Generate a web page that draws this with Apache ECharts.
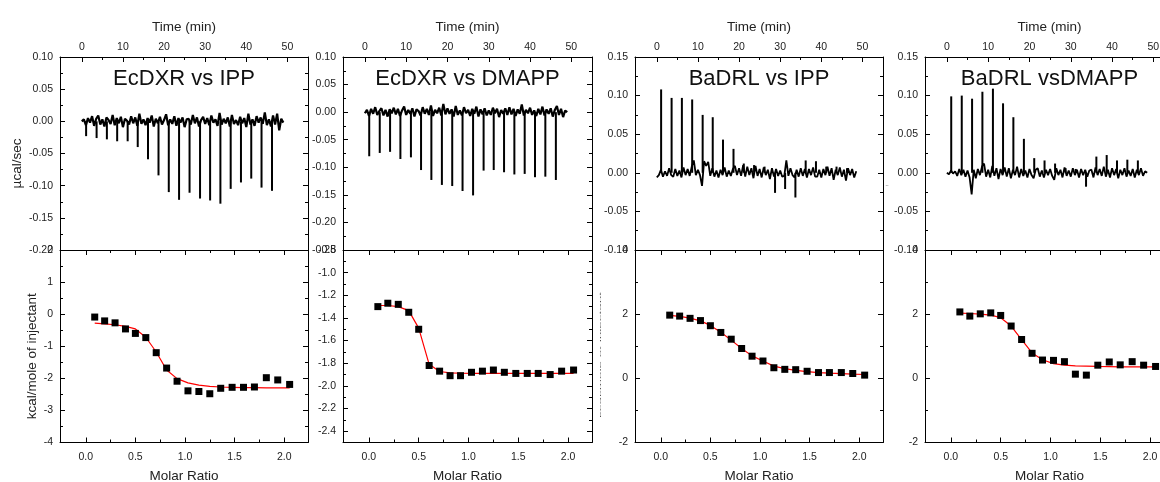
<!DOCTYPE html>
<html>
<head>
<meta charset="utf-8">
<script src="https://cdn.jsdelivr.net/npm/echarts@6/dist/echarts.min.js"></script>
<style>html,body{margin:0;padding:0;background:#fff}#c{width:1160px;height:482px}</style>
</head>
<body>
<div id="c"></div>
<script>
// ---------------- DATA ----------------
const panelTitles = ['EcDXR vs IPP', 'EcDXR vs DMAPP', 'BaDRL vs IPP', 'BaDRL vsDMAPP'];

// injection times (min) of the raw thermograms
const injTime = [1.05, 3.6, 6.1, 8.6, 11.15, 13.6, 16.1, 18.65, 21.15, 23.65, 26.2, 28.75, 31.2, 33.7, 36.2, 38.7, 41.2, 43.7, 46.25];
// molar ratio of each integrated injection
const molarRatio = [0.09, 0.19, 0.295, 0.40, 0.50, 0.605, 0.71, 0.815, 0.92, 1.03, 1.14, 1.25, 1.36, 1.475, 1.59, 1.70, 1.82, 1.935, 2.055];

// injection peak heights (µcal/sec)
const peakEcIPP   = [-0.023,-0.026,-0.028,-0.031,-0.031,-0.040,-0.059,-0.084,-0.110,-0.122,-0.111,-0.120,-0.123,-0.128,-0.105,-0.095,-0.089,-0.103,-0.108];
const peakEcDMAPP = [-0.080,-0.074,-0.072,-0.085,-0.082,-0.105,-0.123,-0.132,-0.134,-0.143,-0.151,-0.106,-0.105,-0.109,-0.113,-0.112,-0.118,-0.117,-0.123];
const peakBaIPP   = [0.108,0.097,0.097,0.095,0.075,0.072,0.043,0.031,0.012,0.010,0.008,-0.026,-0.021,-0.032,0.016,0.015,0.008,0.008,0.006];
const peakBaDMAPP = [0.099,0.100,0.096,0.105,0.109,0.090,0.072,0.044,0.019,0.016,0.012,0.006,0.005,-0.018,0.021,0.023,0.016,0.017,0.016];

// baseline trace read every 0.5 min from t = 0 (units: 0.001 µcal/sec)
const baselineStep = 0.5;
const baseEcIPP = [0,3,-6,5,-2,8,-7,4,9,-5, 3,-8,6,2,-4,10,-6,5,-3,7, -9,4,1,-5,8,-3,6,-7,12,-4, 3,-6,5,-2,9,-8,4,-3,7,-5,
  2,11,-6,3,-4,8,-7,5,-2,6, -9,3,4,-5,10,-3,6,-8,2,7, -4,5,-6,9,-2,3,-7,13,-5,4, -3,6,-8,10,-4,2,-6,7,-3,5,
  -9,12,-5,3,-7,8,-2,6,-4,14, -6,3,-8,9,-5,12,-14,4,-2];
const baseEcDMAPP = [-2,4,-7,6,-3,9,-5,2,7,-6, 4,-8,5,-2,8,-4,6,-7,3,10, -5,4,-3,7,-8,5,2,-6,9,-3, 6,-5,12,-7,4,-2,8,-6,15,-4,
  7,-3,5,-8,11,-5,3,-6,9,-2, 4,-7,6,-3,10,-8,5,-4,7,-6, 3,-5,8,-2,6,-9,4,-3,7,-5, 9,-4,6,-7,5,-3,14,-6,4,-2,
  8,-5,3,-7,6,-4,10,-6,5,-3, 7,-8,4,11,-5,6,-9,3,0];
const baseBaIPP = [-6,-3,4,-5,2,-4,6,-3,-5,5, -4,3,-6,7,-3,5,-4,8,16,-3, 4,-3,-17,15,9,14,-4,6,-5,3, -6,4,-3,7,-5,3,-4,5,9,-3,
  6,-4,10,-5,8,-3,6,-7,9,-4, 5,-6,7,-3,4,-8,6,-5,5,-4, 3,-5,-4,16,-4,6,-3,-6,4,-5, 6,-4,5,-6,5,-3,7,-5,-5,4,
  -6,5,-3,8,-4,6,-9,4,-3,7, -5,4,-10,6,-3,5,-6,2];
const baseBaDMAPP = [0,-2,3,-1,2,-4,5,-3,4,-5, 3,-6,-28,4,-7,5,-3,8,12,-5, 4,-6,9,-4,6,-8,5,-3,7,-5, 6,-7,4,-3,8,-6,5,-4,3,-6,
  5,-3,-7,4,6,-5,3,-6,4,-3, 5,-4,-9,6,-3,4,-6,7,-4,3, -5,6,-3,4,-6,5,-3,4,-5,3, 4,-6,7,-3,5,-4,8,-5,4,-6,
  6,-3,5,-7,4,-3,6,-5,3,-4, 5,-6,4,-3,6,-4,2,0];

// integrated heats (kcal/mole of injectant) and fitted curve
const heatEcIPP   = [-0.09,-0.21,-0.27,-0.46,-0.60,-0.73,-1.20,-1.68,-2.09,-2.39,-2.41,-2.48,-2.31,-2.28,-2.28,-2.27,-1.98,-2.05,-2.19];
const fitEcIPP    = [-0.28,-0.30,-0.33,-0.38,-0.46,-0.72,-1.18,-1.74,-2.01,-2.14,-2.21,-2.25,-2.27,-2.28,-2.29,-2.29,-2.30,-2.30,-2.30];
const heatEcDMAPP = [-1.30,-1.27,-1.28,-1.35,-1.50,-1.82,-1.87,-1.91,-1.91,-1.88,-1.87,-1.86,-1.88,-1.89,-1.89,-1.89,-1.90,-1.87,-1.86];
const fitEcDMAPP  = [-1.29,-1.29,-1.30,-1.335,-1.49,-1.81,-1.873,-1.885,-1.888,-1.89,-1.89,-1.89,-1.89,-1.89,-1.89,-1.89,-1.89,-1.89,-1.89];
const heatBaIPP   = [1.97,1.94,1.87,1.80,1.64,1.43,1.22,0.93,0.69,0.54,0.33,0.28,0.27,0.22,0.18,0.18,0.18,0.15,0.10];
const fitBaIPP    = [1.96,1.93,1.875,1.79,1.65,1.44,1.19,0.93,0.70,0.54,0.38,0.30,0.25,0.21,0.18,0.16,0.145,0.13,0.12];
const heatBaDMAPP = [2.07,1.94,2.01,2.04,1.96,1.63,1.21,0.78,0.57,0.56,0.52,0.13,0.10,0.41,0.51,0.42,0.52,0.41,0.37];
const fitBaDMAPP  = [2.03,2.02,2.00,1.97,1.89,1.63,1.21,0.79,0.58,0.46,0.41,0.39,0.38,0.37,0.365,0.36,0.36,0.36,0.36];

// tick values
const timeMajor = [0,10,20,30,40,50];
const timeMinor = [5,15,25,35,45];
const ratioMajor = [0,0.5,1,1.5,2];
const ratioMinor = [0.25,0.75,1.25,1.75];
const powerMajorEcIPP = [-0.2,-0.15,-0.1,-0.05,0,0.05,0.1];
const powerMinorEcIPP = [-0.175,-0.125,-0.075,-0.025,0.025,0.075];
const powerMajorEcDMAPP = [-0.25,-0.2,-0.15,-0.1,-0.05,0,0.05,0.1];
const powerMinorEcDMAPP = [-0.225,-0.175,-0.125,-0.075,-0.025,0.025,0.075];
const powerMajorBa = [-0.1,-0.05,0,0.05,0.1,0.15];
const powerMinorBa = [-0.075,-0.025,0.025,0.075,0.125];
const heatMajorEcIPP = [-4,-3,-2,-1,0,1,2];
const heatMinorEcIPP = [-3.5,-2.5,-1.5,-0.5,0.5,1.5];
const heatMajorEcDMAPP = [-2.4,-2.2,-2.0,-1.8,-1.6,-1.4,-1.2,-1.0,-0.8];
const heatMinorEcDMAPP = [-2.3,-2.1,-1.9,-1.7,-1.5,-1.3,-1.1,-0.9];
const heatMajorBa = [-2,0,2,4];
const heatMinorBa = [-1,1,3];

// ---------------- LAYOUT / OPTION ----------------
const FONT = '"Liberation Sans", Arial, Helvetica, sans-serif';
const layout = [{left:60,width:248},{left:343,width:249},{left:635,width:248},{left:925,width:249}];
const TOP_Y = 57, TOP_H = 193, BOT_Y = 250, BOT_H = 192.5;
const timeRange = [-5.3, 55];
const ratioRange = [-0.26, 2.24];

const panels = [
  {noise: baseEcIPP, peak: peakEcIPP, heat: heatEcIPP, fit: fitEcIPP, pRange:[-0.2,0.1], pMajor:powerMajorEcIPP, pMinor:powerMinorEcIPP, pDec:2,
   hRange:[-4,2], hMajor:heatMajorEcIPP, hMinor:heatMinorEcIPP, hDec:0, traceW: 2.2},
  {noise: baseEcDMAPP, peak: peakEcDMAPP, heat: heatEcDMAPP, fit: fitEcDMAPP, pRange:[-0.25,0.1], pMajor:powerMajorEcDMAPP, pMinor:powerMinorEcDMAPP, pDec:2,
   hRange:[-2.5,-0.8], hMajor:heatMajorEcDMAPP, hMinor:heatMinorEcDMAPP, hDec:1, traceW: 2.2},
  {noise: baseBaIPP, peak: peakBaIPP, heat: heatBaIPP, fit: fitBaIPP, pRange:[-0.1,0.15], pMajor:powerMajorBa, pMinor:powerMinorBa, pDec:2,
   hRange:[-2,4], hMajor:heatMajorBa, hMinor:heatMinorBa, hDec:0, traceW: 1.8},
  {noise: baseBaDMAPP, peak: peakBaDMAPP, heat: heatBaDMAPP, fit: fitBaDMAPP, pRange:[-0.1,0.15], pMajor:powerMajorBa, pMinor:powerMinorBa, pDec:2,
   hRange:[-2,4], hMajor:heatMajorBa, hMinor:heatMinorBa, hDec:0, traceW: 1.8}
];

const grids = [], xAxes = [], yAxes = [], series = [], graphics = [];
function addX(o){ xAxes.push(o); return xAxes.length - 1; }
function addY(o){ yAxes.push(o); return yAxes.length - 1; }

function ax(gridIndex, position, range, ticks, tickLen, showLine, labels, fmt, margin, extra) {
  const o = {
    type: 'value', gridIndex, position, min: range[0], max: range[1],
    axisLine: {show: showLine, onZero: false, lineStyle: {color: '#000', width: 1}},
    axisTick: {show: true, inside: true, length: tickLen, customValues: ticks, lineStyle: {color: '#000', width: 1}},
    axisLabel: labels ? {show: true, customValues: labels, formatter: fmt, fontSize: 10.5, color: '#222', margin: margin, fontFamily: FONT} : {show: false},
    splitLine: {show: false}, minorTick: {show: false}, minorSplitLine: {show: false},
    silent: true
  };
  return Object.assign(o, extra || {});
}
const nameStyle = {fontSize: 13.5, color: '#222', fontFamily: FONT};

panels.forEach((p, i) => {
  const L = layout[i];
  const g0 = grids.length;
  [[TOP_Y, TOP_H], [TOP_Y, TOP_H], [BOT_Y, BOT_H], [BOT_Y, BOT_H]].forEach(([t, h]) =>
    grids.push({left: L.left, top: t, width: L.width, height: h, containLabel: false, outerBoundsMode: 'none', show: false}));

  // ---- top (raw thermogram) ----
  const xt = addX(ax(g0, 'top', timeRange, timeMajor, 5, true, timeMajor, v => v.toFixed(0), 4,
    {name: 'Time (min)', nameLocation: 'middle', nameGap: 23, nameTextStyle: nameStyle}));
  const yt = addY(ax(g0, 'left', p.pRange, p.pMajor, 5, true, p.pMajor, v => v.toFixed(p.pDec), 7,
    i === 0 ? {name: 'µcal/sec', nameLocation: 'middle', nameGap: 36, nameTextStyle: Object.assign({padding: [0, 20, 0, 0]}, nameStyle)} : null));
  addY(ax(g0, 'right', p.pRange, p.pMajor, 5, true, null));
  addX(ax(g0 + 1, 'top', timeRange, timeMinor, 3, false, null));
  addY(ax(g0 + 1, 'left', p.pRange, p.pMinor, 3, false, null));
  addY(ax(g0 + 1, 'right', p.pRange, p.pMinor, 3, false, null));

  // ---- bottom (integrated heats) ----
  const xb = addX(ax(g0 + 2, 'bottom', ratioRange, ratioMajor, 5, true, ratioMajor, v => v.toFixed(1), 9,
    {name: 'Molar Ratio', nameLocation: 'middle', nameGap: 27, nameTextStyle: nameStyle}));
  addX(ax(g0 + 2, 'top', ratioRange, ratioMajor, 5, true, null));
  const yb = addY(ax(g0 + 2, 'left', p.hRange, p.hMajor, 5, true, p.hMajor, v => v.toFixed(p.hDec), 7,
    i === 0 ? {name: 'kcal/mole of injectant', nameLocation: 'middle', nameGap: 18, nameTextStyle: Object.assign({padding: [0, 20, 0, 0]}, nameStyle)} : null));
  addY(ax(g0 + 2, 'right', p.hRange, p.hMajor, 5, true, null));
  addX(ax(g0 + 3, 'bottom', ratioRange, ratioMinor, 3, false, null));
  addX(ax(g0 + 3, 'top', ratioRange, ratioMinor, 3, false, null));
  addY(ax(g0 + 3, 'left', p.hRange, p.hMinor, 3, false, null));
  addY(ax(g0 + 3, 'right', p.hRange, p.hMinor, 3, false, null));

  // ---- series ----
  series.push({
    type: 'line', xAxisIndex: xt, yAxisIndex: yt, showSymbol: false, symbol: 'none', silent: true,
    lineStyle: {color: '#000', width: p.traceW}, z: 3,
    data: p.noise.map((v, k) => [k * baselineStep, v / 1000])
  });
  series.push({
    type: 'bar', xAxisIndex: xt, yAxisIndex: yt, barWidth: 2, silent: true,
    itemStyle: {color: '#000'}, z: 4,
    data: injTime.map((t, k) => [t, p.peak[k]])
  });
  series.push({
    type: 'line', xAxisIndex: xb, yAxisIndex: yb, showSymbol: false, symbol: 'none', silent: true,
    lineStyle: {color: '#ff0000', width: 1.2}, z: 3,
    data: molarRatio.map((m, k) => [m, p.fit[k]])
  });
  series.push({
    type: 'scatter', xAxisIndex: xb, yAxisIndex: yb, symbol: 'rect', symbolSize: 7, silent: true,
    itemStyle: {color: '#000', opacity: 1}, z: 4,
    data: molarRatio.map((m, k) => [m, p.heat[k]])
  });

  graphics.push({
    type: 'text', x: L.left + L.width / 2, y: 79, silent: true,
    style: {text: panelTitles[i], fontSize: 22, fontFamily: FONT, fill: '#111', align: 'center', verticalAlign: 'middle'}
  });
});

// squeezed (nearly invisible) axis titles left on panels 3 and 4
graphics.push({type: 'text', x: 601, y: 355, rotation: Math.PI / 2, scaleY: 0.08, silent: true,
  style: {text: 'kcal/mole of injectant', fontSize: 13.5, fontFamily: FONT, fill: '#555', align: 'center', verticalAlign: 'middle'}});
graphics.push({type: 'text', x: 887, y: 185, scaleX: 0.05, scaleY: 0.15, silent: true,
  style: {text: 'µcal/sec', fontSize: 13.5, fontFamily: FONT, fill: '#444', align: 'center', verticalAlign: 'middle'}});

const chart = echarts.init(document.getElementById('c'), null, {renderer: 'canvas', width: 1160, height: 482});
chart.setOption({
  animation: false,
  backgroundColor: '#fff',
  grid: grids,
  xAxis: xAxes,
  yAxis: yAxes,
  series: series,
  graphic: graphics
});
</script>
</body>
</html>
